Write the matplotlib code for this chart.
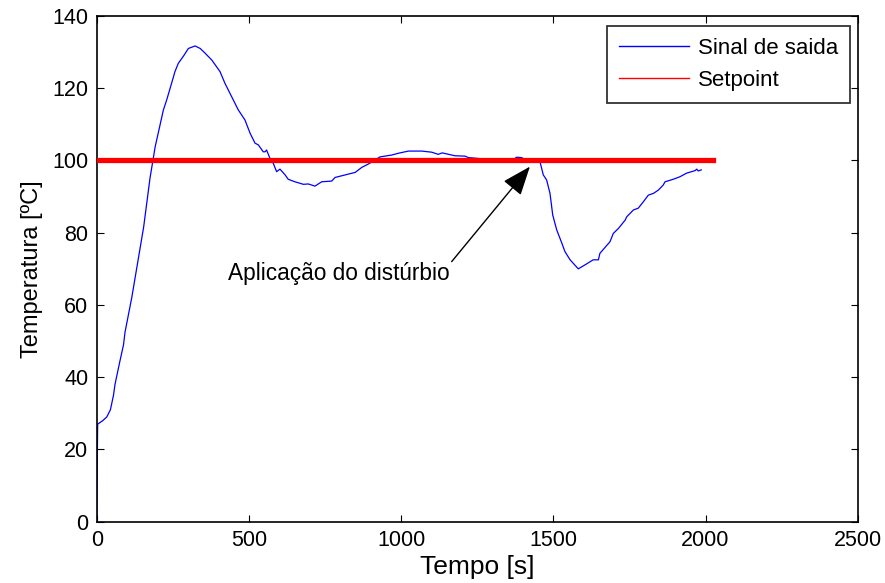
import matplotlib
matplotlib.use('Agg')
import matplotlib.pyplot as plt
from matplotlib.lines import Line2D

plt.rcParams['font.family'] = ['Liberation Sans', 'DejaVu Sans']

# Output signal
tempo = [0, 3, 20, 33, 45, 55, 60, 75, 88, 93, 115, 137, 154, 175, 192, 219, 230,
         246, 257, 268, 285, 301, 323, 340, 356, 378, 405, 421, 443, 465, 487, 504,
         520, 531, 547, 553, 558, 569, 580, 591, 602, 619, 629, 651, 679, 695, 717,
         739, 772, 783, 816, 849, 871, 892, 931, 969, 991, 1024, 1068, 1100, 1122,
         1135, 1177, 1210, 1221, 1300, 1370, 1379, 1395, 1410, 1456, 1467, 1478,
         1489, 1498, 1511, 1528, 1538, 1555, 1582, 1604, 1631, 1648, 1653, 1686,
         1697, 1714, 1736, 1741, 1763, 1779, 1796, 1812, 1829, 1845, 1861, 1867,
         1894, 1916, 1938, 1966, 1971, 1976, 1986]
saida = [0, 27, 28, 29, 31, 35, 38, 44, 49, 52.5, 62, 73, 81.5, 95.1, 103.8, 114.0,
         116.8, 121.4, 124.6, 126.9, 128.9, 131.0, 131.7, 131.0, 129.7, 127.8, 124.6,
         121.4, 117.7, 114.0, 111.2, 107.5, 104.8, 104.3, 102.4, 102.4, 102.9, 100.6,
         99.2, 96.9, 97.6, 96.0, 94.8, 94.1, 93.4, 93.5, 92.9, 94.1, 94.3, 95.3, 96.0,
         96.7, 98.1, 99.0, 101.0, 101.5, 102.0, 102.6, 102.6, 102.3, 101.7, 102.1,
         101.3, 101.2, 100.8, 100.2, 100.3, 100.9, 100.8, 100.2, 99.7, 96.0, 94.6,
         90.9, 84.9, 80.8, 77.1, 74.8, 72.5, 70.0, 71.1, 72.5, 72.5, 74.3, 77.5,
         79.8, 81.2, 83.5, 84.4, 86.3, 86.8, 88.6, 90.4, 90.9, 91.8, 93.2, 94.1,
         94.8, 95.5, 96.5, 97.2, 97.6, 97.1, 97.4]

# Setpoint
sp_tempo = [0, 2026]
sp_valor = [100, 100]

fig = plt.figure(figsize=(8.85, 5.83), dpi=100)
ax = fig.add_axes([0.1093, 0.1051, 0.8599, 0.8675])

ax.plot(tempo, saida, color='#0000ff', lw=0.9, zorder=2)
ax.plot(sp_tempo, sp_valor, color='#ff0000', lw=3.8, zorder=3)

ax.set_xlim(0, 2500)
ax.set_ylim(0, 140)
ax.set_xticks([0, 500, 1000, 1500, 2000, 2500])
ax.set_yticks([0, 20, 40, 60, 80, 100, 120, 140])
ax.tick_params(direction='in', length=5, width=0.8, top=True, right=True,
               labelsize=15.5, pad=6)
for s in ax.spines.values():
    s.set_linewidth(1.2)

ax.set_xlabel('Tempo [s]', fontsize=19, labelpad=3)
ax.set_ylabel('Temperatura [ºC]', fontsize=17, labelpad=7)

# annotation
ax.text(432, 66.9, 'Aplicação do distúrbio', fontsize=16.3, va='baseline', ha='left')
ax.annotate('', xy=(1423, 98.3), xytext=(1166, 72.0),
            arrowprops=dict(arrowstyle='-|>,head_length=0.9,head_width=0.35',
                            color='k', lw=1, mutation_scale=20, shrinkA=0, shrinkB=0))

handles = [Line2D([], [], color='#0000ff', lw=1),
           Line2D([], [], color='#ff0000', lw=1)]
leg = ax.legend(handles, ['Sinal de saida', 'Setpoint'], loc='upper right',
                bbox_to_anchor=(0.99, 0.981), borderaxespad=0, fontsize=16,
                fancybox=False, handlelength=3.15, handletextpad=0.4,
                labelspacing=0.5, borderpad=0.55)
leg.get_frame().set_edgecolor('black')
leg.get_frame().set_linewidth(1.3)

fig.savefig('out.png', dpi=100)
